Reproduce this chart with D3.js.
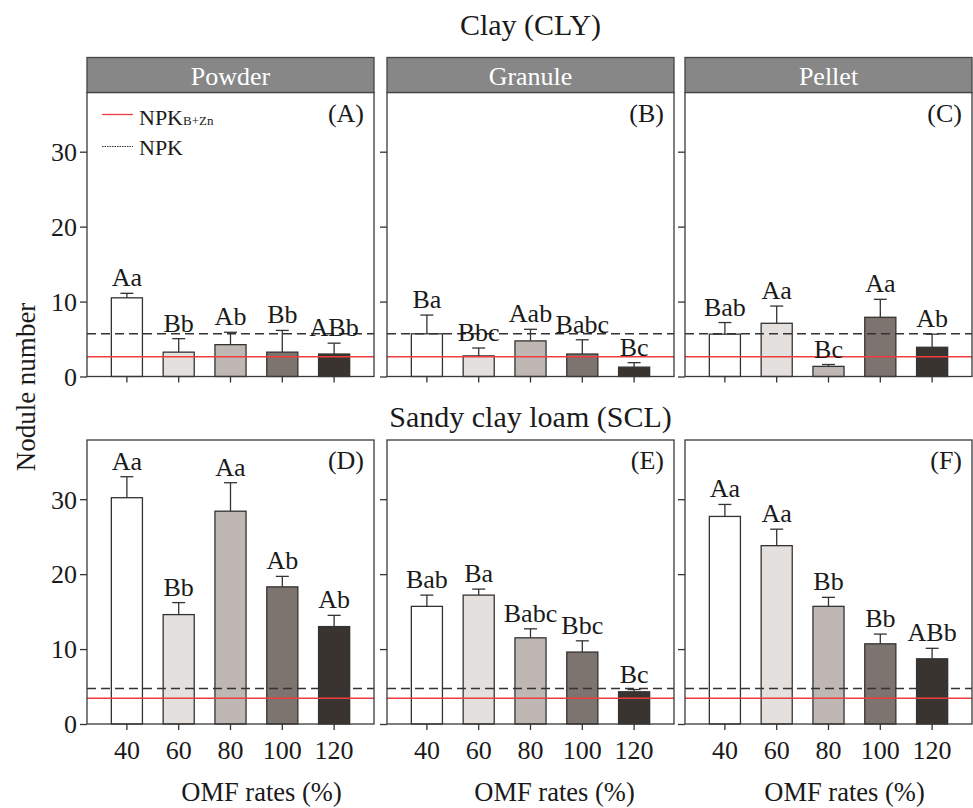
<!DOCTYPE html>
<html>
  <head>
    <meta charset="UTF-8">
    <title>Nodule number by OMF rate</title>
    <script src="https://cdnjs.cloudflare.com/ajax/libs/d3/7.8.5/d3.min.js"></script>
    <style>
      body { margin: 0; background: #fff; }
      svg, svg text { font-family: "Liberation Serif", "DejaVu Serif", serif !important; }
      svg text { fill: #1a1a1a; }
      .frame { fill: none; stroke: #3a3a3a; stroke-width: 1.3; }
      .bar { stroke: #333; stroke-width: 1.3; }
      .err { stroke: #333; stroke-width: 1.3; fill: none; }
      .tick line { stroke: #333; stroke-width: 1.3; }
    </style>
  </head>
  <body>
    <div id="chart"></div>
    <script>
      // OMF rates on x axis
      const rates = ["40", "60", "80", "100", "120"];
      const forms = ["Powder", "Granule", "Pellet"];
      const panelTags = [["(A)", "(B)", "(C)"], ["(D)", "(E)", "(F)"]];
      const soils = ["Clay (CLY)", "Sandy clay loam (SCL)"];
      const yTicks = [0, 10, 20, 30];
      const barColors = ["#ffffff", "#e4e0dd", "#bfb7b3", "#7d7470", "#3a3431"];

      // clay
      const clyPowder = [10.5, 3.25, 4.25, 3.25, 3.0];
      const clyPowderSE = [0.6, 1.8, 1.65, 2.9, 1.45];
      const clyPowderLet = ["Aa", "Bb", "Ab", "Bb", "ABb"];
      const clyGranule = [5.7, 2.75, 4.75, 3.0, 1.25];
      const clyGranuleSE = [2.5, 1.05, 1.55, 1.9, 0.6];
      const clyGranuleLet = ["Ba", "Bbc", "Aab", "Babc", "Bc"];
      const clyPellet = [5.65, 7.1, 1.35, 7.9, 3.9];
      const clyPelletSE = [1.55, 2.3, 0.25, 2.4, 1.75];
      const clyPelletLet = ["Bab", "Aa", "Bc", "Aa", "Ab"];
      // sandy clay loam
      const sclPowder = [30.2, 14.6, 28.4, 18.3, 13.0];
      const sclPowderSE = [2.8, 1.6, 3.8, 1.4, 1.5];
      const sclPowderLet = ["Aa", "Bb", "Aa", "Ab", "Ab"];
      const sclGranule = [15.7, 17.2, 11.5, 9.6, 4.3];
      const sclGranuleSE = [1.5, 0.8, 1.2, 1.5, 0.3];
      const sclGranuleLet = ["Bab", "Ba", "Babc", "Bbc", "Bc"];
      const sclPellet = [27.7, 23.8, 15.7, 10.7, 8.7];
      const sclPelletSE = [1.6, 2.2, 1.2, 1.3, 1.4];
      const sclPelletLet = ["Aa", "Aa", "Bb", "Bb", "ABb"];

      // control reference lines (NPK, NPK B+Zn) per soil
      const npk = [5.7, 4.75];
      const npkBZn = [2.65, 3.45];

      const rows = [
        [[clyPowder, clyPowderSE, clyPowderLet], [clyGranule, clyGranuleSE, clyGranuleLet], [clyPellet, clyPelletSE, clyPelletLet]],
        [[sclPowder, sclPowderSE, sclPowderLet], [sclGranule, sclGranuleSE, sclGranuleLet], [sclPellet, sclPelletSE, sclPelletLet]]
      ];

      const W = 973, H = 808;
      const panelLeft = [87, 387, 685];
      const panelW = 287;
      const rowTop = [92.5, 440];
      const panelH = 284;
      const xTitleShift = [31, 24, 16];
      const serif = "Liberation Serif, DejaVu Serif, serif";

      const svg = d3.select("#chart").append("svg")
        .attr("width", W).attr("height", H)
        .attr("font-family", serif);
      svg.append("rect").attr("width", W).attr("height", H).attr("fill", "#fff");

      const x = d3.scaleBand().domain(rates).range([0, panelW])
        .paddingInner(0.4).paddingOuter(0.47);
      const y = d3.scaleLinear().domain([0, 37.9]).range([panelH, 0]);

      rows.forEach((row, r) => {
        row.forEach((p, c) => {
          const [means, ses, lets] = p;
          const data = rates.map((k, i) => ({k: k, m: means[i], se: ses[i], l: lets[i], i: i}));
          const g = svg.append("g")
            .attr("transform", `translate(${panelLeft[c]},${rowTop[r]})`);

          // y axis ticks (labels only on first column)
          const ya = g.append("g").call(d3.axisLeft(y).tickValues(yTicks).tickSize(7)
            .tickFormat(c === 0 ? d3.format("d") : () => ""));
          ya.attr("font-family", serif);
          ya.select(".domain").remove();
          ya.selectAll("text").attr("font-size", 26).attr("x", -10).attr("dy", "0.34em")
            .attr("fill", "#1a1a1a");

          // x axis ticks
          const xa = g.append("g").attr("transform", `translate(0,${panelH})`)
            .call(d3.axisBottom(x).tickSize(6).tickFormat(r === 1 ? d => d : () => ""));
          xa.attr("font-family", serif);
          xa.select(".domain").remove();
          xa.selectAll("text").attr("font-size", 26).attr("y", 17).attr("dy", "0.71em")
            .attr("fill", "#1a1a1a");

          // bars
          g.selectAll(".bar").data(data).enter().append("rect")
            .attr("class", "bar")
            .attr("x", d => x(d.k))
            .attr("width", x.bandwidth())
            .attr("y", d => y(d.m))
            .attr("height", d => y(0) - y(d.m))
            .attr("fill", d => barColors[d.i]);

          // error bars (upper only)
          const eb = g.selectAll(".eb").data(data).enter().append("g");
          eb.append("line").attr("class", "err")
            .attr("x1", d => x(d.k) + x.bandwidth() / 2).attr("x2", d => x(d.k) + x.bandwidth() / 2)
            .attr("y1", d => y(d.m)).attr("y2", d => y(d.m + d.se));
          eb.append("line").attr("class", "err")
            .attr("x1", d => x(d.k) + x.bandwidth() / 2 - 6.5).attr("x2", d => x(d.k) + x.bandwidth() / 2 + 6.5)
            .attr("y1", d => y(d.m + d.se)).attr("y2", d => y(d.m + d.se));

          // reference lines
          g.append("line").attr("x1", 0).attr("x2", panelW)
            .attr("y1", y(npk[r])).attr("y2", y(npk[r]))
            .attr("stroke", "#333").attr("stroke-width", 1.5).attr("stroke-dasharray", "9,5");
          g.append("line").attr("x1", 0).attr("x2", panelW)
            .attr("y1", y(npkBZn[r])).attr("y2", y(npkBZn[r]))
            .attr("stroke", "#f03c3c").attr("stroke-width", 1.5);

          // letters
          g.selectAll(".lab").data(data).enter().append("text")
            .attr("x", d => x(d.k) + x.bandwidth() / 2)
            .attr("y", d => y(d.m + d.se) - 7)
            .attr("text-anchor", "middle").attr("font-size", 26)
            .text(d => d.l);

          // panel tag
          g.append("text").attr("x", panelW - 10).attr("y", 29)
            .attr("text-anchor", "end").attr("font-size", 26).text(panelTags[r][c]);

          g.append("rect").attr("class", "frame").attr("width", panelW).attr("height", panelH);

          // form strip on top row
          if (r === 0) {
            g.append("rect").attr("y", -35).attr("width", panelW).attr("height", 35)
              .attr("fill", "#878787").attr("stroke", "#444").attr("stroke-width", 1.3);
            g.append("text").attr("x", panelW / 2).attr("y", -8)
              .attr("text-anchor", "middle").attr("font-size", 26)
              .style("fill", "#fff").text(forms[c]);
          }
          if (r === 1) {
            g.append("text").attr("x", panelW / 2 + xTitleShift[c]).attr("y", panelH + 77)
              .attr("text-anchor", "middle").attr("font-size", 26.5).text("OMF rates (%)");
          }
        });
      });

      // legend in panel A
      const lg = svg.append("g").attr("transform", `translate(${panelLeft[0]},${rowTop[0]})`);
      lg.append("line").attr("x1", 15).attr("x2", 46).attr("y1", 22).attr("y2", 22)
        .attr("stroke", "#f03c3c").attr("stroke-width", 1.3);
      const t1 = lg.append("text").attr("x", 52).attr("y", 32).attr("font-size", 22);
      t1.append("tspan").text("NPK");
      t1.append("tspan").attr("font-size", 13).text("B+Zn");
      lg.append("line").attr("x1", 15).attr("x2", 46).attr("y1", 54).attr("y2", 54)
        .attr("stroke", "#333").attr("stroke-width", 1.2).attr("stroke-dasharray", "1.5,1");
      lg.append("text").attr("x", 52).attr("y", 62.5).attr("font-size", 22).text("NPK");

      // soil titles
      const midX = panelLeft[1] + panelW / 2;
      svg.append("text").attr("x", midX).attr("y", 35).attr("text-anchor", "middle")
        .attr("font-size", 30).text(soils[0]);
      svg.append("text").attr("x", midX).attr("y", 427).attr("text-anchor", "middle")
        .attr("font-size", 30).text(soils[1]);

      // y title
      svg.append("text").attr("transform", "translate(35,387) rotate(-90)")
        .attr("text-anchor", "middle").attr("font-size", 27).text("Nodule number");
    </script>
  </body>
</html>
